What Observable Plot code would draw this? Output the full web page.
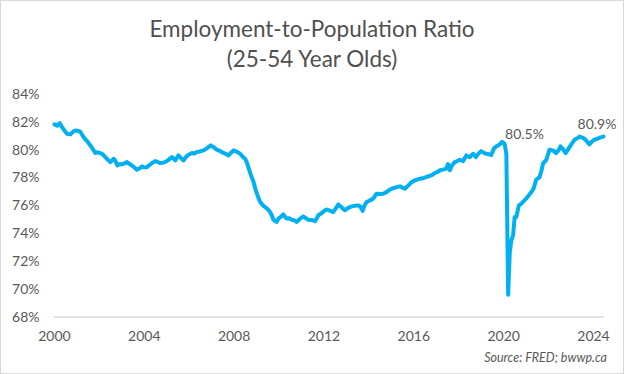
<!DOCTYPE html>
<html><head><meta charset="utf-8">
<script src="https://cdn.jsdelivr.net/npm/d3@7"></script>
<script src="https://cdn.jsdelivr.net/npm/@observablehq/plot@0.6"></script>
<style>
html,body{margin:0;padding:0;background:#fff;}
#fig{position:relative;width:624px;height:374px;box-sizing:border-box;border:1px solid #d9d9d9;font-family:Lato,"Open Sans",sans-serif;color:#595959;overflow:hidden;background:#fff;}
#title{position:absolute;left:-1px;top:13px;width:624px;text-align:center;font-size:22.5px;line-height:30px;color:#505050;}
#chart{position:absolute;left:-1px;top:79px;}
#source{position:absolute;right:16px;top:349px;font-size:12.5px;font-style:italic;}
</style>
</head><body>
<div id="fig">
  <div id="title">Employment-to-Population Ratio<br>(25-54 Year Olds)</div>
  <div id="chart"></div>
  <div id="source">Source: FRED; bwwp.ca</div>
</div>
<script>
// Prime-age (25-54) employment-to-population ratio, %
const years = [
  2000.00,2000.12,2000.24,2000.34,2000.45,2000.56,2000.71,2000.85,2000.93,2001.08,
  2001.16,2001.30,2001.45,2001.60,2001.72,2001.82,2001.92,2002.04,2002.15,2002.27,
  2002.38,2002.49,2002.64,2002.72,2002.81,2002.90,2003.00,2003.12,2003.23,2003.35,
  2003.45,2003.56,2003.67,2003.80,2003.90,2004.00,2004.12,2004.25,2004.37,2004.49,
  2004.60,2004.71,2004.82,2004.93,2005.08,2005.23,2005.30,2005.38,2005.45,2005.52,
  2005.62,2005.75,2005.85,2005.95,2006.12,2006.22,2006.34,2006.50,2006.64,2006.80,
  2006.96,2007.10,2007.23,2007.35,2007.45,2007.60,2007.75,2007.85,2007.97,2008.10,
  2008.27,2008.40,2008.49,2008.57,2008.64,2008.75,2008.86,2008.95,2009.02,2009.10,
  2009.16,2009.27,2009.38,2009.50,2009.60,2009.68,2009.75,2009.83,2009.90,2009.97,
  2010.08,2010.19,2010.27,2010.34,2010.45,2010.56,2010.68,2010.79,2010.92,2011.08,
  2011.20,2011.30,2011.45,2011.60,2011.68,2011.75,2011.92,2012.02,2012.12,2012.27,
  2012.41,2012.52,2012.64,2012.78,2012.93,2013.08,2013.23,2013.38,2013.52,2013.62,
  2013.72,2013.80,2013.90,2014.00,2014.12,2014.23,2014.34,2014.50,2014.64,2014.80,
  2014.93,2015.15,2015.38,2015.50,2015.60,2015.75,2015.90,2016.08,2016.27,2016.45,
  2016.64,2016.80,2016.93,2017.08,2017.16,2017.30,2017.45,2017.52,2017.60,2017.70,
  2017.82,2017.92,2018.04,2018.19,2018.34,2018.49,2018.64,2018.76,2018.88,2019.00,
  2019.12,2019.23,2019.35,2019.45,2019.56,2019.65,2019.75,2019.85,2019.93,2020.04,
  2020.12,2020.20,2020.27,2020.34,2020.42,2020.49,2020.56,2020.68,2020.79,2020.90,
  2021.00,2021.12,2021.23,2021.33,2021.45,2021.60,2021.68,2021.75,2021.90,2022.04,
  2022.19,2022.34,2022.45,2022.53,2022.65,2022.76,2022.85,2022.93,2023.05,2023.16,
  2023.28,2023.38,2023.50,2023.60,2023.72,2023.82,2023.92,2024.04,2024.15,2024.27,
  2024.36,2024.44
];
const ratio = [
  81.85,81.75,81.94,81.65,81.40,81.18,81.13,81.35,81.41,81.38,
  81.30,80.93,80.65,80.34,80.05,79.79,79.85,79.79,79.70,79.50,
  79.30,79.14,79.38,79.20,78.90,79.00,78.97,79.05,79.14,79.00,
  78.90,78.75,78.60,78.70,78.83,78.75,78.78,78.95,79.10,79.21,
  79.15,79.07,79.10,79.14,79.30,79.50,79.40,79.26,79.45,79.62,
  79.45,79.26,79.50,79.65,79.79,79.75,79.86,79.92,79.98,80.15,
  80.34,80.20,80.03,79.95,79.86,79.75,79.62,79.80,79.98,79.90,
  79.74,79.50,79.38,79.10,78.75,78.20,77.75,77.20,76.85,76.50,
  76.27,76.05,75.91,75.75,75.55,75.30,75.00,74.90,74.84,75.08,
  75.20,75.39,75.20,75.08,75.10,75.00,74.95,74.84,75.05,75.24,
  75.10,75.00,74.98,74.89,75.10,75.32,75.50,75.65,75.73,75.65,
  75.55,75.80,76.10,75.90,75.68,75.85,75.96,76.00,76.03,75.95,
  75.63,76.00,76.27,76.35,76.44,76.60,76.87,76.85,76.87,77.00,
  77.16,77.30,77.40,77.30,77.23,77.45,77.70,77.85,77.95,78.00,
  78.11,78.20,78.35,78.45,78.55,78.60,78.67,79.00,78.55,78.90,
  79.14,79.20,79.31,79.21,79.62,79.50,79.74,79.50,79.75,79.93,
  79.80,79.74,79.70,79.64,80.10,80.25,80.34,80.45,80.60,80.46,
  79.74,69.60,72.60,73.50,73.90,75.20,75.20,76.03,76.16,76.35,
  76.51,76.75,76.99,77.23,77.88,78.06,78.50,79.03,79.31,80.03,
  79.98,79.79,80.00,80.27,80.05,79.79,80.00,80.22,80.50,80.75,
  80.85,80.98,80.90,80.82,80.60,80.41,80.60,80.75,80.80,80.89,
  80.93,80.98
];
const xTicks = [2000, 2004, 2008, 2012, 2016, 2020, 2024];
const yTicks = [68, 70, 72, 74, 76, 78, 80, 82, 84];
const noteYears = [2019.93, 2024.44];
const noteValues = [80.6, 80.98];
const noteLabels = ["80.5%", "80.9%"];

const series = years.map((t, i) => ({t, v: ratio[i]}));
const notes = noteYears.map((t, i) => ({t, v: noteValues[i], label: noteLabels[i]}));

const chart = Plot.plot({
  width: 624,
  height: 274,
  marginLeft: 54,
  marginRight: 19,
  marginTop: 14,
  marginBottom: 37,
  style: {fontFamily: "Lato, 'Open Sans', sans-serif", color: "#595959", background: "transparent", overflow: "visible"},
  x: {domain: [2000, 2024.49], label: null},
  y: {domain: [68, 84], label: null},
  marks: [
    Plot.axisX({ticks: xTicks, tickSize: 0, tickPadding: 14, tickFormat: d => String(d), fontSize: 14, fill: "#595959", label: null}),
    Plot.axisY({ticks: yTicks, tickSize: 0, tickPadding: 15, tickFormat: d => d + "%", fontSize: 14, fill: "#595959", label: null}),
    Plot.ruleY([68], {stroke: "#d9d9d9", strokeWidth: 1.5}),
    Plot.line(series, {x: "t", y: "v", stroke: "#00b0f0", strokeWidth: 4, strokeLinejoin: "round", strokeLinecap: "round"}),
    Plot.text(notes.slice(0, 1), {x: "t", y: "v", text: "label", textAnchor: "start", dx: 3, dy: -7, fontSize: 14, fill: "#595959"}),
    Plot.text(notes.slice(1), {x: "t", y: "v", text: "label", textAnchor: "end", dx: 13, dy: -12, fontSize: 14, fill: "#595959"})
  ]
});
document.getElementById("chart").appendChild(chart);
</script>
</body></html>
